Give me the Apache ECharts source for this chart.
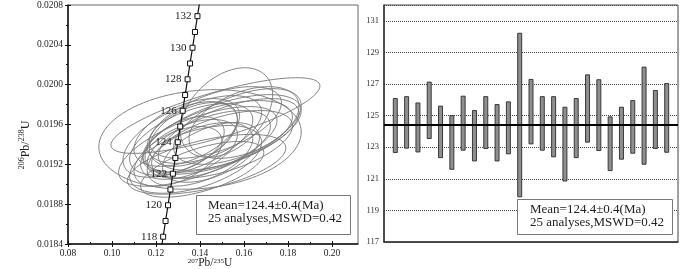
<!DOCTYPE html>
<html>
<head>
<meta charset="utf-8">
<script src="https://cdn.jsdelivr.net/npm/echarts@6/dist/echarts.min.js"></script>
<style>
html,body{margin:0;padding:0;background:#fff;}
#c{width:700px;height:269px;}
</style>
</head>
<body>
<div id="c"></div>
<script>
// ---------- Concordia (left panel) ----------
const concAges = [117,118,119,120,121,122,123,124,125,126,127,128,129,130,131,132,133,134];
const concX = [0.12213,0.12324,0.12434,0.12545,0.12656,0.12767,0.12878,0.12989,0.13100,0.13212,0.13323,0.13435,0.13547,0.13659,0.13771,0.13883,0.13995,0.14107];
const concY = [0.018315,0.018473,0.018631,0.018789,0.018947,0.019106,0.019264,0.019422,0.019580,0.019738,0.019896,0.020054,0.020213,0.020371,0.020529,0.020688,0.020846,0.021004];
const markedAges = [118,119,120,121,122,123,124,125,126,127,128,129,130,131,132];
const labeledAges = [118,120,122,124,126,128,130,132];

// error ellipses: centre (207/235, 206/238), half-widths, correlation
const ellCX  = [0.147,0.140,0.152,0.150,0.138,0.143,0.135,0.142,0.148,0.137,0.153,0.133,0.140,0.147,0.130,0.144,0.157,0.136,0.141,0.150,0.134,0.139,0.160,0.131,0.145];
const ellCY  = [0.01969,0.01945,0.01972,0.01950,0.01925,0.01920,0.01935,0.01955,0.01948,0.01950,0.01950,0.01940,0.01930,0.01962,0.01928,0.01940,0.01958,0.01945,0.01915,0.01940,0.01952,0.01938,0.01962,0.01945,0.01932];
const ellSX  = [0.0475,0.046,0.021,0.036,0.030,0.036,0.022,0.026,0.034,0.020,0.032,0.018,0.024,0.030,0.020,0.028,0.029,0.028,0.028,0.032,0.024,0.036,0.025,0.026,0.022];
const ellSY  = [0.00038,0.00050,0.00045,0.00040,0.00034,0.00030,0.00030,0.00034,0.00036,0.00032,0.00036,0.00028,0.00032,0.00036,0.00030,0.00034,0.00038,0.00036,0.00028,0.00034,0.00034,0.00040,0.00036,0.00038,0.00030];
const ellRho = [0.78,0.15,0.40,0.60,0.50,0.55,0.50,0.50,0.55,0.45,0.60,0.45,0.50,0.55,0.50,0.55,0.55,0.55,0.60,0.55,0.50,0.65,0.45,0.55,0.50];

const leftXTicks = [0.08,0.10,0.12,0.14,0.16,0.18,0.20];
const leftXMinor = [0.09,0.11,0.13,0.15,0.17,0.19];

// ---------- Weighted mean (right panel) ----------
const spotNo  = [1,2,3,4,5,6,7,8,9,10,11,12,13,14,15,16,17,18,19,20,21,22,23,24,25];
const ageHigh = [126.08,126.2,125.8,127.12,125.6,125.0,126.23,125.32,126.2,125.7,125.87,130.21,127.29,126.2,126.2,125.53,126.08,127.58,127.27,124.92,125.53,125.95,128.07,126.59,127.03];
const ageLow  = [122.66,122.94,122.7,123.55,122.34,121.6,122.81,122.13,122.92,122.13,122.58,119.86,123.21,122.81,122.39,120.86,122.34,123.32,122.79,121.52,122.24,122.62,121.92,122.92,122.68];
const meanAge = 124.4;

const meanText1 = 'Mean=124.4±0.4(Ma)';
const meanText2 = '25 analyses,MSWD=0.42';

const SERIF = '"Liberation Serif","Times New Roman",serif';

const concData = concAges.map((a, i) => {
  const marked = markedAges.indexOf(a) >= 0;
  const lab = labeledAges.indexOf(a) >= 0;
  return {
    value: [concX[i], concY[i]],
    symbol: marked ? 'rect' : 'none',
    label: { show: lab, formatter: String(a) }
  };
});

const ellData = ellCX.map((c, i) => [c, ellCY[i], ellSX[i], ellSY[i], ellRho[i]]);
const barData = spotNo.map((n, i) => [n, ageLow[i], ageHigh[i]]);

const chart = echarts.init(document.getElementById('c'), null, {renderer: 'canvas'});

const tickStyle = {color: '#111', width: 1};

chart.setOption({
  animation: false,
  backgroundColor: '#fff',
  textStyle: {fontFamily: SERIF},
  grid: [
    {left: 68, top: 3, width: 290, height: 241, show: true, borderColor: '#666', borderWidth: 1, backgroundColor: 'transparent'},
    {left: 384, top: 5, width: 294, height: 237, show: true, borderColor: '#444', borderWidth: 1, backgroundColor: 'transparent'}
  ],
  xAxis: [
    {gridIndex: 0, type: 'value', min: 0.08, max: 0.2118, position: 'bottom',
      axisLine: {lineStyle: {color: '#111', width: 1.5}},
      axisTick: {show: true, inside: false, length: 3, lineStyle: tickStyle, customValues: leftXTicks},
      axisLabel: {customValues: leftXTicks, formatter: v => v.toFixed(2), fontFamily: SERIF, fontSize: 9.5, color: '#222', margin: 4},
      splitLine: {show: false}},
    {gridIndex: 0, type: 'value', min: 0.08, max: 0.2118, position: 'bottom',
      axisLine: {show: false},
      axisTick: {show: true, inside: true, length: 3, lineStyle: tickStyle, customValues: leftXTicks},
      axisLabel: {show: false}, splitLine: {show: false}},
    {gridIndex: 0, type: 'value', min: 0.08, max: 0.2118, position: 'bottom',
      axisLine: {show: false},
      axisTick: {show: true, inside: true, length: 2, lineStyle: tickStyle, customValues: leftXMinor},
      axisLabel: {show: false}, splitLine: {show: false}},
    {gridIndex: 1, type: 'value', min: 0, max: 26, position: 'bottom',
      axisLine: {lineStyle: {color: '#333', width: 1.5}},
      axisTick: {show: false}, axisLabel: {show: false}, splitLine: {show: false}}
  ],
  yAxis: [
    {gridIndex: 0, type: 'value', min: 0.0184, max: 0.0208, interval: 0.0004, position: 'left',
      axisLine: {show: true, lineStyle: {color: '#111', width: 1.5}},
      axisTick: {show: true, inside: false, length: 3, lineStyle: tickStyle},
      minorTick: {show: true, splitNumber: 2, length: 2, lineStyle: tickStyle},
      axisLabel: {formatter: v => v.toFixed(4), fontFamily: SERIF, fontSize: 9.5, color: '#222', margin: 5},
      splitLine: {show: false}},
    {gridIndex: 0, type: 'value', min: 0.0184, max: 0.0208, interval: 0.0004, position: 'left',
      axisLine: {show: false},
      axisTick: {show: true, inside: true, length: 3, lineStyle: tickStyle},
      minorTick: {show: false},
      axisLabel: {show: false}, splitLine: {show: false}},
    {gridIndex: 1, type: 'value', min: 117, max: 132, interval: 2, position: 'left',
      axisLine: {show: true, lineStyle: {color: '#333', width: 1.5}},
      axisTick: {show: false},
      axisLabel: {fontFamily: SERIF, fontSize: 8.5, color: '#333', margin: 5, showMaxLabel: false},
      splitLine: {show: true, lineStyle: {color: '#444', width: 1, type: [1, 1]}}}
  ],
  series: [
    {
      type: 'custom', xAxisIndex: 0, yAxisIndex: 0, z: 2,
      dimensions: ['x', 'y', 'sx', 'sy', 'rho'],
      encode: {x: 0, y: 1},
      data: ellData,
      renderItem: function (params, api) {
        const cx = api.value(0), cy = api.value(1), sx = api.value(2), sy = api.value(3), r = api.value(4);
        const q = Math.sqrt(1 - r * r);
        const pts = [];
        for (let k = 0; k < 90; k++) {
          const t = 2 * Math.PI * k / 90;
          pts.push(api.coord([cx + sx * Math.cos(t), cy + sy * (r * Math.cos(t) + q * Math.sin(t))]));
        }
        return {type: 'polygon', shape: {points: pts}, style: {fill: 'none', stroke: '#777', lineWidth: 0.9}};
      }
    },
    {
      type: 'line', xAxisIndex: 0, yAxisIndex: 0, z: 3,
      data: concData,
      clip: true,
      symbolSize: 5,
      itemStyle: {color: '#fff', borderColor: '#111', borderWidth: 1},
      lineStyle: {color: '#111', width: 1.2},
      label: {position: 'left', distance: 3, fontFamily: SERIF, fontSize: 11, color: '#222'}
    },
    {
      type: 'custom', xAxisIndex: 3, yAxisIndex: 2, z: 3,
      encode: {x: 0, y: [1, 2]},
      data: barData,
      renderItem: function (params, api) {
        const top = api.coord([api.value(0), api.value(2)]);
        const bot = api.coord([api.value(0), api.value(1)]);
        return {type: 'rect', shape: {x: top[0] - 2, y: top[1], width: 4, height: bot[1] - top[1]},
          style: {fill: '#8f8f8f', stroke: '#2a2a2a', lineWidth: 0.9}};
      },
      markLine: {
        silent: true, symbol: 'none', label: {show: false},
        lineStyle: {color: '#000', width: 2, type: 'solid'},
        data: [{yAxis: meanAge}]
      }
    }
  ],
  graphic: [
    {type: 'text', x: 25, y: 145, rotation: Math.PI / 2, z: 10,
      style: {text: '{s|206}{m|Pb/}{s|238}{m|U}', align: 'center', verticalAlign: 'middle',
        rich: {s: {fontSize: 8, fontFamily: SERIF, fill: '#222', verticalAlign: 'top', lineHeight: 14},
               m: {fontSize: 12, fontFamily: SERIF, fill: '#222', verticalAlign: 'bottom', lineHeight: 14}}}},
    {type: 'text', x: 210, y: 263.5, z: 10,
      style: {text: '{s|207}{m|Pb/}{s|235}{m|U}', align: 'center', verticalAlign: 'middle',
        rich: {s: {fontSize: 7, fontFamily: SERIF, fill: '#222', verticalAlign: 'top', lineHeight: 11},
               m: {fontSize: 11.5, fontFamily: SERIF, fill: '#222', verticalAlign: 'bottom', lineHeight: 11}}}},
    {type: 'rect', z: 10, shape: {x: 196.5, y: 195.5, width: 154, height: 39},
      style: {fill: '#fff', stroke: '#777', lineWidth: 1}},
    {type: 'text', x: 208, y: 206, z: 11,
      style: {text: meanText1, fontFamily: SERIF, fontSize: 13, fill: '#222', verticalAlign: 'middle'}},
    {type: 'text', x: 208, y: 219, z: 11,
      style: {text: meanText2, fontFamily: SERIF, fontSize: 13, fill: '#222', verticalAlign: 'middle'}},
    {type: 'rect', z: 10, shape: {x: 517.5, y: 199.5, width: 155, height: 35},
      style: {fill: '#fff', stroke: '#777', lineWidth: 1}},
    {type: 'text', x: 530, y: 210, z: 11,
      style: {text: meanText1, fontFamily: SERIF, fontSize: 13, fill: '#222', verticalAlign: 'middle'}},
    {type: 'text', x: 530, y: 223, z: 11,
      style: {text: meanText2, fontFamily: SERIF, fontSize: 13, fill: '#222', verticalAlign: 'middle'}}
  ]
});
</script>
</body>
</html>
